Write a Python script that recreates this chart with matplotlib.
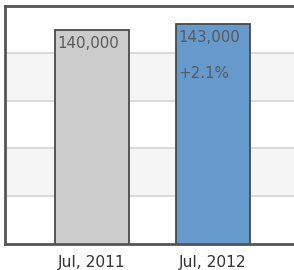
import matplotlib
matplotlib.use("Agg")
import matplotlib.pyplot as plt
import numpy as np

categories = ["Jul, 2011", "Jul, 2012"]
values = [140000, 143000]
value_labels = ["140,000", "143,000"]
change_label = "+2.1%"
bar_colors = ["#cccccc", "#6699cc"]

W, H = 294, 270
fig = plt.figure(figsize=(W / 100, H / 100), dpi=100)
fig.patch.set_facecolor("white")

ax = fig.add_axes([5 / W, 26.5 / H, 290 / W, 238 / H])

ymin, ymax = 33250, 152250
ax.set_ylim(ymin, ymax)
ax.set_xlim(-0.7155, 1.676)

# alternating bands
edges = np.linspace(ymin, ymax, 6)
for i in range(5):
    if i % 2 == 1:
        ax.axhspan(edges[i], edges[i + 1], color="#f5f5f5", zorder=0, lw=0)
for e in edges[1:-1]:
    ax.axhline(e, color="#d4d4d4", lw=1.2, zorder=1)

x = np.arange(len(categories))
bw = 73.5 / 121.25
ax.bar(x, values, width=bw, bottom=0, color=bar_colors, edgecolor="#4a4a4a",
       linewidth=1.3, zorder=2)

txt_color = "#5a5a5a"
fs = 10.8
for xi, v, lab in zip(x, values, value_labels):
    ax.annotate(lab, (xi - bw / 2, v), xytext=(2, -6), textcoords="offset pixels",
                ha="left", va="top", fontsize=fs, color=txt_color,
                family="DejaVu Sans", zorder=3)
ax.annotate(change_label, (x[1] - bw / 2, values[1]), xytext=(2, -42),
            textcoords="offset pixels", ha="left", va="top", fontsize=fs,
            color=txt_color, family="DejaVu Sans", zorder=3)

ax.set_xticks(x)
ax.set_xticklabels(categories, fontsize=11.2, color="#333333", family="DejaVu Sans")
ax.tick_params(axis="x", length=0, pad=8)
ax.set_yticks([])

for s in ["left", "bottom", "top"]:
    ax.spines[s].set_color("#555555")
    ax.spines[s].set_linewidth(2)
ax.spines["right"].set_visible(False)

fig.savefig("out.png", dpi=100)
